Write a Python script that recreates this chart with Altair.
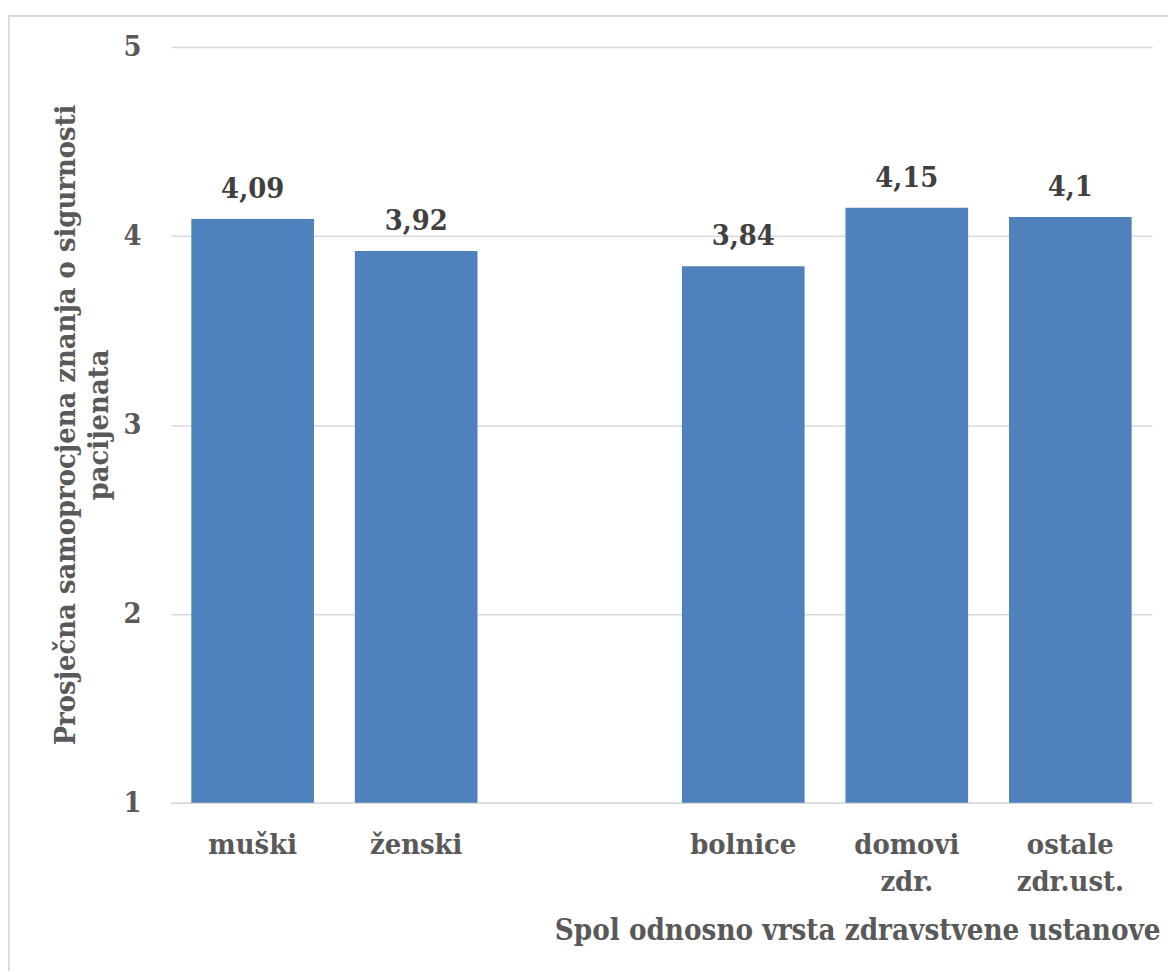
import altair as alt
import pandas as pd

categories = ["muški", "ženski", " ", "bolnice", "domovi\nzdr.", "ostale\nzdr.ust."]
bar_categories = ["muški", "ženski", "bolnice", "domovi\nzdr.", "ostale\nzdr.ust."]
values = [4.09, 3.92, 3.84, 4.15, 4.10]
value_labels = ["4,09", "3,92", "3,84", "4,15", "4,1"]
y_ticks = [1, 2, 3, 4, 5]
y_min = 1

y_title = ["Prosječna samoprocjena znanja o sigurnosti", "pacijenata"]
x_title = "Spol odnosno vrsta zdravstvene ustanove"

df = pd.DataFrame({"cat": bar_categories, "val": values, "lab": value_labels})

FONT = "DejaVu Serif Condensed, DejaVu Serif"
GREY = "#595959"
DARK = "#404040"
GRID = "#d9d9d9"

x_scale = alt.Scale(domain=categories, paddingInner=0.25, paddingOuter=0.125)
y_scale = alt.Scale(domain=[1, 5], nice=False, zero=False)

x_enc = alt.X(
    "cat:N",
    sort=categories,
    scale=x_scale,
    axis=alt.Axis(
        title=x_title,
        labelExpr="split(datum.label, '\\n')",
        labelAngle=0,
        labelFont=FONT,
        labelFontSize=29,
        labelFontWeight="bold",
        labelColor=GREY,
        labelLineHeight=37,
        labelPadding=28,
        labelBaseline="top",
        ticks=False,
        grid=False,
        domain=True,
        domainColor=GRID,
        domainWidth=1.5,
        titleFont=FONT,
        titleFontSize=29.5,
        titleFontWeight="bold",
        titleColor=GREY,
        titleAnchor="end",
        titleAlign="right",
        titleBaseline="alphabetic",
        titleX=996,
        titleY=138,
    ),
)

y_enc = alt.Y(
    "val:Q",
    scale=y_scale,
    axis=alt.Axis(
        values=y_ticks,
        format="d",
        title=y_title,
        labelFont=FONT,
        labelFontSize=29,
        labelFontWeight="bold",
        labelColor=GREY,
        labelPadding=30,
        ticks=False,
        domain=False,
        grid=True,
        gridColor=GRID,
        gridWidth=1.5,
        titleFont=FONT,
        titleFontSize=29,
        titleFontWeight="bold",
        titleColor=GREY,
        titleLineHeight=33,
        titleAngle=270,
        titleAlign="center",
        titleBaseline="middle",
        titleX=-106,
        titleY=380,
    ),
)

bars = alt.Chart(df).mark_bar(color="#4f81bd").encode(
    x=x_enc, y=y_enc, y2=alt.datum(y_min)
)

texts = alt.Chart(df).mark_text(
    font=FONT, fontSize=29, fontWeight="bold", color=DARK,
    baseline="alphabetic", dy=-21,
).encode(
    x=alt.X("cat:N", sort=categories, scale=x_scale),
    y=alt.Y("val:Q", scale=y_scale),
    text="lab:N",
)

frame_left = alt.Chart(df).mark_rule(color=GRID, strokeWidth=1.5).encode(
    x=alt.value(-163.5), y=alt.value(-31.5), y2=alt.value(930)
)
frame_top = alt.Chart(df).mark_rule(color=GRID, strokeWidth=1.5).encode(
    x=alt.value(-163.5), x2=alt.value(1010), y=alt.value(-31.5)
)

chart = (
    alt.layer(frame_left, frame_top, bars, texts)
    .properties(
        width=988,
        height=761,
        background="white",
        autosize=alt.AutoSizeParams(type="none"),
        padding={"left": 164, "top": 36, "right": 16, "bottom": 167},
    )
    .configure_view(strokeWidth=0, stroke=None)
)

chart.save("out.html", embed_options={"renderer": "svg", "actions": False})
